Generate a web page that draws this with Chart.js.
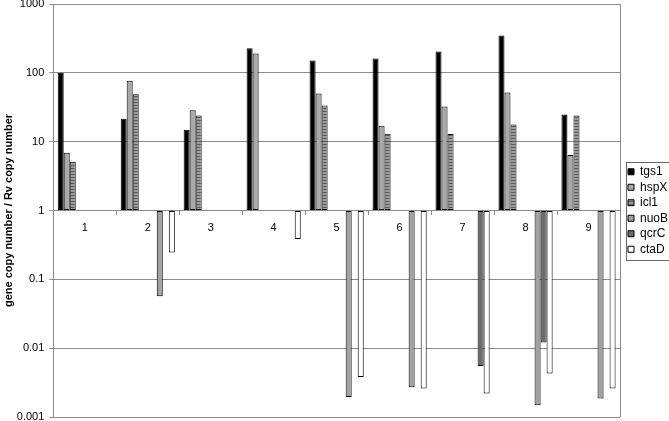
<!DOCTYPE html>
<html>
<head>
<meta charset="utf-8">
<script src="https://cdn.jsdelivr.net/npm/chart.js@4.4.1/dist/chart.umd.min.js"></script>
<style>
  html, body { margin: 0; padding: 0; background: #fff; }
  #wrap { width: 669px; height: 421px; position: relative; }
</style>
</head>
<body>
<div id="wrap"><canvas id="chart"></canvas></div>
<script>
  // strain numbers on the x axis
  const STRAINS = ['1', '2', '3', '4', '5', '6', '7', '8', '9'];

  // gene copy number / Rv copy number
  const TGS1 = [100, 21.6, 14.9, 228, 151, 162, 204, 350, 24.9];
  const HSPX = [6.9, 77, 28.5, 191, 50, 17.1, 32.3, 52, 6.4];
  const ICL1 = [5.1, 48.8, 23.9, null, 33.4, 13.0, 12.9, 17.8, 23.9];
  const NUOB = [null, 0.057, null, null, 0.00195, 0.0027, null, 0.00148, 0.00185];
  const QCRC = [null, null, null, null, null, null, 0.0055, 0.0121, null];
  const CTAD = [null, 0.245, null, 0.384, 0.0038, 0.0026, 0.0022, 0.0043, 0.0026];
  // the original sheet leaves three empty series between icl1 and nuoB
  const EMPTY = [null, null, null, null, null, null, null, null, null];

  const Y_TICKS = [0.001, 0.01, 0.1, 1, 10, 100, 1000];

  const GRID = '#8c8c8c';
  const FONT = "'Liberation Sans', Arial, sans-serif";

  function stripes() {
    const c = document.createElement('canvas');
    c.width = 4; c.height = 3;
    const g = c.getContext('2d');
    g.fillStyle = '#9c9c9c'; g.fillRect(0, 0, 4, 3);
    g.fillStyle = '#5a5a5a'; g.fillRect(0, 0, 4, 1);
    return g.createPattern(c, 'repeat');
  }

  function series(label, data, fill) {
    return {
      label, data, base: 1,
      backgroundColor: fill,
      borderColor: '#000',
      borderWidth: 1,
      borderSkipped: false
    };
  }

  const datasets = [
    series('tgs1', TGS1, '#000000'),
    series('hspX', HSPX, '#a9a9a9'),
    series('icl1', ICL1, stripes()),
    series('', EMPTY, '#fff'),
    series('', EMPTY, '#fff'),
    series('', EMPTY, '#fff'),
    series('nuoB', NUOB, '#a2a2a2'),
    series('qcrC', QCRC, '#6c6c6c'),
    series('ctaD', CTAD, '#ffffff')
  ];

  const frame = {
    id: 'frame',
    afterInit(chart) {
      // keep the legend column narrow so the plot ends where the original does
      const lg = chart.legend;
      const fit = lg.fit.bind(lg);
      lg.fit = function () { fit(); this.width = 49; };
    },
    afterLayout(chart) {
      chart.legend.left += 4.5;
      chart.legend.right += 4.5;
    },
    afterDraw(chart) {
      const { ctx, chartArea: a, legend: lg } = chart;
      ctx.save();
      ctx.strokeStyle = GRID;
      ctx.lineWidth = 1;
      const rx = Math.round(a.right) + 0.5;
      ctx.beginPath();
      ctx.moveTo(rx, a.top);
      ctx.lineTo(rx, a.bottom);
      ctx.stroke();
      const hb = lg.legendHitBoxes;
      const top = hb[0].top - 4;
      const bottom = hb[hb.length - 1].top + hb[hb.length - 1].height + 4;
      ctx.strokeStyle = '#666';
      ctx.strokeRect(Math.round(lg.left + 1.5) + 0.5, Math.round(top) + 0.5, 80, Math.round(bottom - top));
      ctx.restore();
    }
  };

  new Chart(document.getElementById('chart'), {
    type: 'bar',
    data: { labels: STRAINS, datasets },
    plugins: [frame],
    options: {
      responsive: true,
      maintainAspectRatio: false,
      animation: false,
      layout: { padding: { left: 1, right: 0, top: 0, bottom: 0 } },
      datasets: { bar: { categoryPercentage: 0.86, barPercentage: 1 } },
      plugins: {
        legend: {
          position: 'right',
          labels: {
            boxWidth: 6,
            boxHeight: 6,
            padding: 3.5,
            color: '#000',
            font: { family: FONT, size: 12 },
            filter: item => item.text !== ''
          }
        },
        tooltip: { enabled: false }
      },
      scales: {
        x: {
          position: { y: 1 },
          grid: { drawOnChartArea: false, color: GRID, tickLength: 4 },
          border: { color: GRID },
          ticks: { color: '#000', font: { family: FONT, size: 11 }, padding: 7, maxRotation: 0 }
        },
        y: {
          type: 'logarithmic',
          min: 0.001,
          max: 1000,
          afterBuildTicks: s => { s.ticks = Y_TICKS.map(v => ({ value: v })); },
          afterFit: s => { s.paddingTop = 4; s.paddingBottom = 4; s.width = 52.3; },
          ticks: { callback: v => String(v), color: '#000', font: { family: FONT, size: 11 }, padding: 5, autoSkip: false },
          grid: { color: GRID, tickLength: 4 },
          border: { color: GRID },
          title: {
            display: true,
            text: 'gene copy number / Rv copy number',
            color: '#000',
            font: { family: FONT, size: 11, weight: 'bold' },
            padding: { top: 1, bottom: 2 }
          }
        }
      }
    }
  });
</script>
</body>
</html>
